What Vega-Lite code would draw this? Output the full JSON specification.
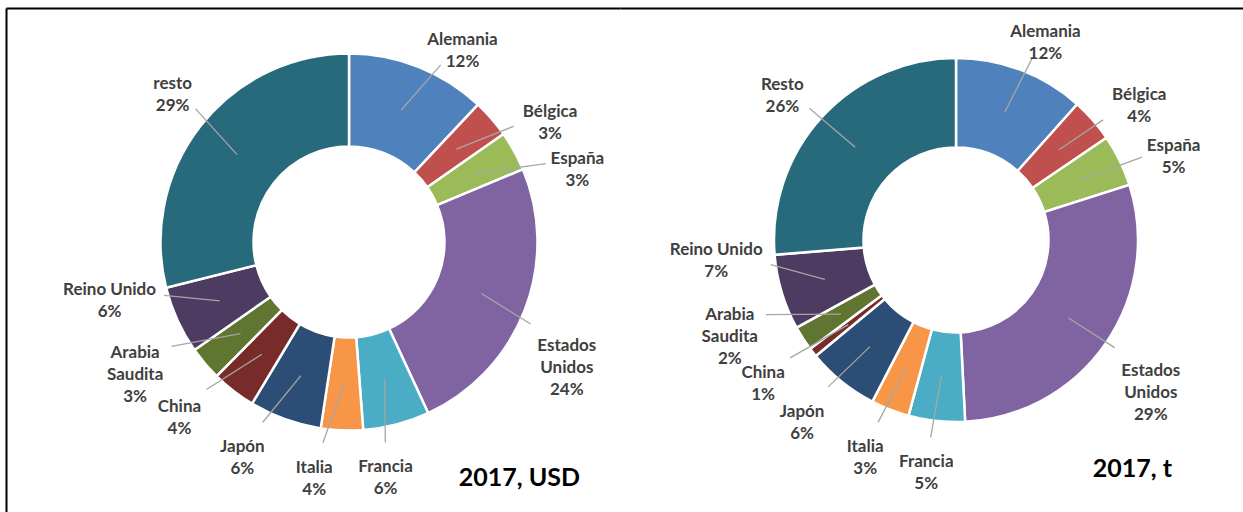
{
  "$schema": "https://vega.github.io/schema/vega-lite/v6.json",
  "padding": {"left": 6, "top": 8, "right": 0, "bottom": 0},
  "background": "white",
  "spacing": 0,
  "bounds": "flush",
  "datasets": {
    "usd": [
      {"i": 0, "name": "Alemania", "lbl": "Alemania", "v": 12.0},
      {"i": 1, "name": "Bélgica", "lbl": "Bélgica", "v": 3.3},
      {"i": 2, "name": "España", "lbl": "España", "v": 3.4},
      {"i": 3, "name": "Estados Unidos", "lbl": "Estados\nUnidos", "v": 24.4},
      {"i": 4, "name": "Francia", "lbl": "Francia", "v": 5.7},
      {"i": 5, "name": "Italia", "lbl": "Italia", "v": 3.6},
      {"i": 6, "name": "Japón", "lbl": "Japón", "v": 6.2},
      {"i": 7, "name": "China", "lbl": "China", "v": 3.8},
      {"i": 8, "name": "Arabia Saudita", "lbl": "Arabia\nSaudita", "v": 2.9},
      {"i": 9, "name": "Reino Unido", "lbl": "Reino Unido", "v": 5.8},
      {"i": 10, "name": "resto", "lbl": "resto", "v": 28.9}
    ],
    "ton": [
      {"i": 0, "name": "Alemania", "lbl": "Alemania", "v": 11.6},
      {"i": 1, "name": "Bélgica", "lbl": "Bélgica", "v": 3.9},
      {"i": 2, "name": "España", "lbl": "España", "v": 4.6},
      {"i": 3, "name": "Estados Unidos", "lbl": "Estados\nUnidos", "v": 29.1},
      {"i": 4, "name": "Francia", "lbl": "Francia", "v": 5.0},
      {"i": 5, "name": "Italia", "lbl": "Italia", "v": 3.4},
      {"i": 6, "name": "Japón", "lbl": "Japón", "v": 6.4},
      {"i": 7, "name": "China", "lbl": "China", "v": 0.8},
      {"i": 8, "name": "Arabia Saudita", "lbl": "Arabia\nSaudita", "v": 2.2},
      {"i": 9, "name": "Reino Unido", "lbl": "Reino Unido", "v": 6.7},
      {"i": 10, "name": "Resto", "lbl": "Resto", "v": 26.3}
    ]
  },
  "hconcat": [
    {
      "width": 614,
      "height": 504,
      "data": {"name": "usd"},
      "title": {"text": "2017, USD", "orient": "bottom", "anchor": "end", "frame": "group", "offset": -46, "dx": -40, "font": "Lato", "fontSize": 25, "fontWeight": "bold", "color": "black"},
      "transform": [
        {"joinaggregate": [{"op": "sum", "field": "v", "as": "tot"}]},
        {"calculate": "length(split(datum.lbl, '\\n')) + 1", "as": "n"},
        {"calculate": "max(length(split(datum.lbl, '\\n')[0]), length(split(datum.lbl, '\\n')[1] || ''), 3)", "as": "ml"},
        {"window": [{"op": "sum", "field": "v", "as": "cum"}, {"op": "lag", "field": "n", "as": "np"}], "sort": [{"field": "i", "order": "ascending"}], "frame": [null, 0]},
        {"calculate": "datum.np == null ? 0 : 3.4 * (datum.np + datum.n)", "as": "gap"},
        {"window": [{"op": "sum", "field": "gap", "as": "G"}], "sort": [{"field": "i", "order": "ascending"}], "frame": [null, 0]},
        {"calculate": "(datum.cum - datum.v / 2) / datum.tot * 360", "as": "mdeg"},
        {"calculate": "datum.mdeg + 6 - datum.G", "as": "a"},
        {"window": [{"op": "max", "field": "a", "as": "amax"}], "sort": [{"field": "i", "order": "ascending"}], "frame": [null, 0]},
        {"calculate": "(datum.amax + datum.G) * PI / 180", "as": "L"},
        {"calculate": "datum.mdeg * PI / 180", "as": "M"},
        {"calculate": "245 * sin(datum.L)", "as": "cx"},
        {"calculate": "228 * cos(datum.L)", "as": "cy"},
        {"calculate": "142 * sin(datum.M)", "as": "sx"},
        {"calculate": "142 * cos(datum.M)", "as": "sy"},
        {"calculate": "sqrt(pow(datum.sx - datum.cx, 2) + pow(datum.sy - datum.cy, 2))", "as": "dl"},
        {"calculate": "(datum.sx - datum.cx) / datum.dl", "as": "ux"},
        {"calculate": "(datum.sy - datum.cy) / datum.dl", "as": "uy"},
        {"calculate": "min((datum.ml * 4.6 + 4) / max(abs(datum.ux), 0.001), (datum.n * 11 + 3) / max(abs(datum.uy), 0.001))", "as": "t"},
        {"calculate": "datum.cx + datum.ux * datum.t", "as": "ex"},
        {"calculate": "datum.cy + datum.uy * datum.t", "as": "ey"},
        {"calculate": "datum.lbl + '\\n' + format(datum.v, '.0f') + '%'", "as": "txt"}
      ],
      "layer": [
        {
          "mark": {"type": "arc", "outerRadius": 188.5, "innerRadius": 95.5, "stroke": "white", "strokeWidth": 2.5},
          "encoding": {
            "x": {"datum": 0, "type": "quantitative", "scale": {"domain": [-343, 271], "nice": false, "zero": false}, "axis": {"orient": "top", "title": null}},
            "y": {"datum": 0, "type": "quantitative", "scale": {"domain": [-270, 234], "nice": false, "zero": false}, "axis": {"orient": "left", "title": null}},
            "theta": {"field": "v", "type": "quantitative", "stack": true},
            "order": {"field": "i", "type": "quantitative"},
            "color": {"field": "name", "type": "nominal", "legend": null,
              "scale": {"domain": ["Alemania", "Bélgica", "España", "Estados Unidos", "Francia", "Italia", "Japón", "China", "Arabia Saudita", "Reino Unido", "resto"],
                        "range": ["#4F81BD", "#C0504D", "#9BBB59", "#8064A2", "#4BACC6", "#F79646", "#2C4D75", "#772C2A", "#5F7530", "#4D3B62", "#276A7C"]}}
          }
        },
        {
          "mark": {"type": "rule", "color": "#A6A6A6", "strokeWidth": 1.3},
          "encoding": {
            "x": {"field": "sx", "type": "quantitative", "scale": {"domain": [-343, 271], "nice": false, "zero": false}, "axis": {"orient": "top", "title": null}},
            "y": {"field": "sy", "type": "quantitative", "scale": {"domain": [-270, 234], "nice": false, "zero": false}, "axis": {"orient": "left", "title": null}},
            "x2": {"field": "ex"},
            "y2": {"field": "ey"}
          }
        },
        {
          "mark": {"type": "text", "font": "Lato", "fontWeight": "bold", "fontSize": 17, "lineHeight": 22, "lineBreak": "\n", "align": "center", "baseline": "middle", "color": "#404040"},
          "encoding": {
            "x": {"field": "cx", "type": "quantitative", "scale": {"domain": [-343, 271], "nice": false, "zero": false}, "axis": {"orient": "top", "title": null}},
            "y": {"field": "cy", "type": "quantitative", "scale": {"domain": [-270, 234], "nice": false, "zero": false}, "axis": {"orient": "left", "title": null}},
            "text": {"field": "txt", "type": "nominal"}
          }
        }
      ]
    },
    {
      "width": 623,
      "height": 504,
      "data": {"name": "ton"},
      "title": {"text": "2017, t", "orient": "bottom", "anchor": "end", "frame": "group", "offset": -55, "dx": -71, "font": "Lato", "fontSize": 25, "fontWeight": "bold", "color": "black"},
      "transform": [
        {"joinaggregate": [{"op": "sum", "field": "v", "as": "tot"}]},
        {"calculate": "length(split(datum.lbl, '\\n')) + 1", "as": "n"},
        {"calculate": "max(length(split(datum.lbl, '\\n')[0]), length(split(datum.lbl, '\\n')[1] || ''), 3)", "as": "ml"},
        {"window": [{"op": "sum", "field": "v", "as": "cum"}, {"op": "lag", "field": "n", "as": "np"}], "sort": [{"field": "i", "order": "ascending"}], "frame": [null, 0]},
        {"calculate": "datum.np == null ? 0 : 3.4 * (datum.np + datum.n)", "as": "gap"},
        {"window": [{"op": "sum", "field": "gap", "as": "G"}], "sort": [{"field": "i", "order": "ascending"}], "frame": [null, 0]},
        {"calculate": "(datum.cum - datum.v / 2) / datum.tot * 360", "as": "mdeg"},
        {"calculate": "datum.mdeg + 1 - datum.G", "as": "a"},
        {"window": [{"op": "max", "field": "a", "as": "amax"}], "sort": [{"field": "i", "order": "ascending"}], "frame": [null, 0]},
        {"calculate": "(datum.amax + datum.G) * PI / 180", "as": "L"},
        {"calculate": "datum.mdeg * PI / 180", "as": "M"},
        {"calculate": "240 * sin(datum.L)", "as": "cx"},
        {"calculate": "224 * cos(datum.L)", "as": "cy"},
        {"calculate": "137 * sin(datum.M)", "as": "sx"},
        {"calculate": "137 * cos(datum.M)", "as": "sy"},
        {"calculate": "sqrt(pow(datum.sx - datum.cx, 2) + pow(datum.sy - datum.cy, 2))", "as": "dl"},
        {"calculate": "(datum.sx - datum.cx) / datum.dl", "as": "ux"},
        {"calculate": "(datum.sy - datum.cy) / datum.dl", "as": "uy"},
        {"calculate": "min((datum.ml * 4.6 + 4) / max(abs(datum.ux), 0.001), (datum.n * 11 + 3) / max(abs(datum.uy), 0.001))", "as": "t"},
        {"calculate": "datum.cx + datum.ux * datum.t", "as": "ex"},
        {"calculate": "datum.cy + datum.uy * datum.t", "as": "ey"},
        {"calculate": "datum.lbl + '\\n' + format(datum.v, '.0f') + '%'", "as": "txt"}
      ],
      "layer": [
        {
          "mark": {"type": "arc", "outerRadius": 182, "innerRadius": 92.5, "stroke": "white", "strokeWidth": 2.5},
          "encoding": {
            "x": {"datum": 0, "type": "quantitative", "scale": {"domain": [-336, 287], "nice": false, "zero": false}, "axis": {"orient": "top", "title": null}},
            "y": {"datum": 0, "type": "quantitative", "scale": {"domain": [-272, 232], "nice": false, "zero": false}, "axis": null},
            "theta": {"field": "v", "type": "quantitative", "stack": true},
            "order": {"field": "i", "type": "quantitative"},
            "color": {"field": "name", "type": "nominal", "legend": null,
              "scale": {"domain": ["Alemania", "Bélgica", "España", "Estados Unidos", "Francia", "Italia", "Japón", "China", "Arabia Saudita", "Reino Unido", "Resto"],
                        "range": ["#4F81BD", "#C0504D", "#9BBB59", "#8064A2", "#4BACC6", "#F79646", "#2C4D75", "#772C2A", "#5F7530", "#4D3B62", "#276A7C"]}}
          }
        },
        {
          "mark": {"type": "rule", "color": "#A6A6A6", "strokeWidth": 1.3},
          "encoding": {
            "x": {"field": "sx", "type": "quantitative", "scale": {"domain": [-336, 287], "nice": false, "zero": false}, "axis": {"orient": "top", "title": null}},
            "y": {"field": "sy", "type": "quantitative", "scale": {"domain": [-272, 232], "nice": false, "zero": false}, "axis": null},
            "x2": {"field": "ex"},
            "y2": {"field": "ey"}
          }
        },
        {
          "mark": {"type": "text", "font": "Lato", "fontWeight": "bold", "fontSize": 17, "lineHeight": 22, "lineBreak": "\n", "align": "center", "baseline": "middle", "color": "#404040"},
          "encoding": {
            "x": {"field": "cx", "type": "quantitative", "scale": {"domain": [-336, 287], "nice": false, "zero": false}, "axis": {"orient": "top", "title": null}},
            "y": {"field": "cy", "type": "quantitative", "scale": {"domain": [-272, 232], "nice": false, "zero": false}, "axis": null},
            "text": {"field": "txt", "type": "nominal"}
          }
        }
      ]
    }
  ],
  "resolve": {"scale": {"x": "independent", "y": "independent", "color": "independent", "theta": "independent"}},
  "config": {
    "view": {"stroke": null},
    "axis": {"labels": false, "ticks": false, "grid": false, "domain": true, "domainColor": "black", "domainWidth": 2}
  }
}
